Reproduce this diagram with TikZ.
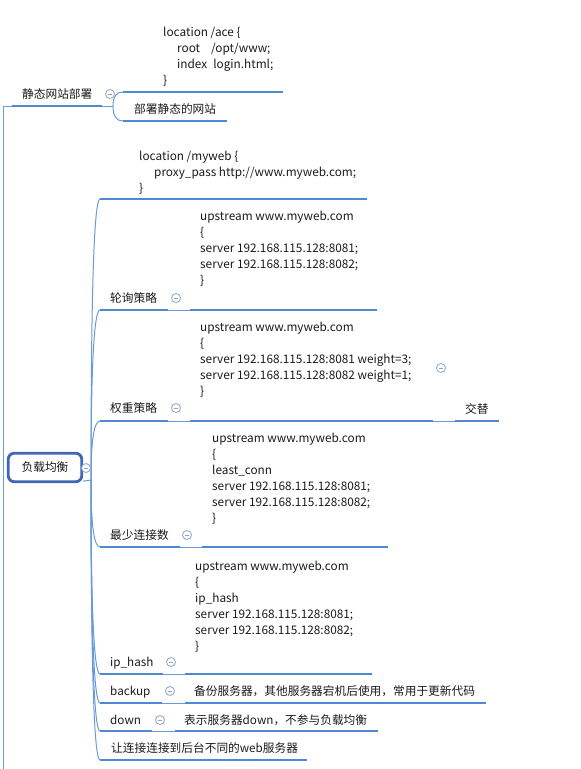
\documentclass[tikz,border=0pt]{standalone}
\usepackage{fontspec}
\setmainfont{Noto Sans CJK SC}
\usepackage{tikz}
\usetikzlibrary{calc}
\definecolor{linkblue}{HTML}{5088D2}
\definecolor{rootblue}{HTML}{3E68B6}
\definecolor{foldgray}{HTML}{8DA4C8}
\definecolor{inkblack}{HTML}{1A1A1A}

\begin{document}
\begin{tikzpicture}[x=1pt,y=-1pt,
    every node/.style={font=\fontsize{11.7}{16}\selectfont,text=inkblack,inner sep=0pt},
    topic/.style={anchor=base west},
    codebox/.style={anchor=base west,align=left,font=\fontsize{11.8}{16}\selectfont},
    uline/.style={draw=linkblue,line width=2.4pt},
    link/.style={draw=linkblue!85,line width=1pt},
    fold/.style={circle,draw=foldgray,line width=0.8pt,fill=white,minimum size=9pt,
      path picture={\draw[foldgray,line width=0.8pt]
        ([xshift=-2.4pt]path picture bounding box.center) -- ([xshift=2.4pt]path picture bounding box.center);}}]
  \useasboundingbox (0,0) rectangle (581,769);

  % static site branch
  \coordinate (s0) at (113,106);
  \coordinate (s1) at (123,92);
  \coordinate (s2) at (123,121);
  \draw[link] (3,769) -- (3,106) -- (12,106);
  \draw[link] (102,106) -- (s0);
  \draw[link] (s0) .. controls ($(s0)!.667!(s0 |- s1)$) and ($(s1)+(-6.7,0)$) .. (s1);
  \draw[link] (s0) .. controls ($(s0)!.667!(s0 |- s2)$) and ($(s2)+(-6.7,0)$) .. (s2);
  \draw[uline] (12,106) -- (102,106);
  \draw[uline] (s1) -- (283,92);
  \draw[uline] (s2) -- (227,121);
  % base of a multi-line box = last line
  \node[codebox] (ace) at (163,84.5) {location /ace \{\\\hspace*{14pt}root\hspace{11pt}/opt/www;\\\hspace*{14pt}index\hspace{6pt}login.html;\\\}};
  \node[topic] (static) at (22,98.5) {静态网站部署};
  \node[topic] (deploy) at (134,113) {部署静态的网站};
  \node[fold] (fstatic) at (110,94) {};

  % load balancing branch
  \coordinate (r) at (91,480);
  \coordinate (c1) at (100,199);
  \coordinate (c2) at (100,310);
  \coordinate (c3) at (100,421);
  \coordinate (c4) at (100,547);
  \coordinate (c5) at (100,674);
  \coordinate (c6) at (100,703);
  \coordinate (c7) at (100,731);
  \coordinate (c8) at (100,760);
  \draw[link] (r) .. controls ($(r)!.667!(r |- c1)$) and ($(c1)+(-6,0)$) .. (c1);
  \draw[link] (r) .. controls ($(r)!.667!(r |- c2)$) and ($(c2)+(-6,0)$) .. (c2);
  \draw[link] (r) .. controls ($(r)!.667!(r |- c3)$) and ($(c3)+(-6,0)$) .. (c3);
  \draw[link] (r) .. controls ($(r)!.667!(r |- c4)$) and ($(c4)+(-6,0)$) .. (c4);
  \draw[link] (r) .. controls ($(r)!.667!(r |- c5)$) and ($(c5)+(-6,0)$) .. (c5);
  \draw[link] (r) .. controls ($(r)!.667!(r |- c6)$) and ($(c6)+(-6,0)$) .. (c6);
  \draw[link] (r) .. controls ($(r)!.667!(r |- c7)$) and ($(c7)+(-6,0)$) .. (c7);
  \draw[link] (r) .. controls ($(r)!.667!(r |- c8)$) and ($(c8)+(-6,0)$) .. (c8);
  \node[draw=rootblue,line width=2.8pt,rounded corners=6pt,fill=white,
    minimum width=73.5pt,minimum height=28.5pt] (lb) at (45,467.5) {负载均衡};
  \draw[link] ([yshift=2pt]lb.south east) -- (r);
  \node[fold] (flb) at (86,468) {};

  % proxy
  \draw[uline] (c1) -- (367,199);
  \node[codebox] (myweb) at (139,192) {location /myweb \{\\\hspace*{15pt}proxy\_pass http://www.myweb.com;\\\}};

  % round robin
  \coordinate (rr1) at (168,310);
  \coordinate (rr2) at (190,310);
  \draw[uline] (c2) -- (rr1);
  \draw[link] (rr1) -- (rr2);
  \draw[uline] (rr2) -- (377,310);
  \node[topic] (rr) at (110,302) {轮询策略};
  \node[fold] (frr) at (176,298) {};
  \node[codebox] (rrcode) at (200,284.5) {upstream www.myweb.com\\\{\\server 192.168.115.128:8081;\\server 192.168.115.128:8082;\\\}};

  % weight
  \coordinate (wt1) at (168,421);
  \coordinate (wt2) at (190,421);
  \coordinate (wt3) at (433,421);
  \coordinate (wt4) at (455,421);
  \draw[uline] (c3) -- (wt1);
  \draw[link] (wt1) -- (wt2);
  \draw[uline] (wt2) -- (wt3);
  \draw[link] (wt3) -- (wt4);
  \draw[uline] (wt4) -- (499,421);
  \node[topic] (wt) at (110,412) {权重策略};
  \node[fold] (fwt) at (176,408) {};
  \node[codebox] (wtcode) at (200,395.5) {upstream www.myweb.com\\\{\\server 192.168.115.128:8081 weight=3;\\server 192.168.115.128:8082 weight=1;\\\}};
  \node[fold] (fwtcode) at (441,368) {};
  \node[topic] (alt) at (465,413) {交替};

  % least connections
  \coordinate (lc1) at (180,547);
  \coordinate (lc2) at (202,547);
  \draw[uline] (c4) -- (lc1);
  \draw[link] (lc1) -- (lc2);
  \draw[uline] (lc2) -- (388,547);
  \node[topic] (lc) at (110,539) {最少连接数};
  \node[fold] (flc) at (187,535) {};
  \node[codebox] (lccode) at (212,522.5) {upstream www.myweb.com\\\{\\least\_conn\\server 192.168.115.128:8081;\\server 192.168.115.128:8082;\\\}};

  % ip hash
  \coordinate (ih1) at (163,674);
  \coordinate (ih2) at (185,674);
  \draw[uline] (c5) -- (ih1);
  \draw[link] (ih1) -- (ih2);
  \draw[uline] (ih2) -- (372,674);
  \node[topic] (ih) at (110,666) {ip\_hash};
  \node[fold] (fih) at (171,662) {};
  \node[codebox] (ihcode) at (195,650) {upstream www.myweb.com\\\{\\ip\_hash\\server 192.168.115.128:8081;\\server 192.168.115.128:8082;\\\}};

  % backup
  \coordinate (bk1) at (162,703);
  \coordinate (bk2) at (185,703);
  \draw[uline] (c6) -- (bk1);
  \draw[link] (bk1) -- (bk2);
  \draw[uline] (bk2) -- (486,703);
  \node[topic] (bk) at (110,695) {backup};
  \node[fold] (fbk) at (170,691) {};
  \node[topic] (bktext) at (194,695) {备份服务器，其他服务器宕机后使用，常用于更新代码};

  % down
  \coordinate (dn1) at (152,731);
  \coordinate (dn2) at (175,731);
  \draw[uline] (c7) -- (dn1);
  \draw[link] (dn1) -- (dn2);
  \draw[uline] (dn2) -- (378,731);
  \node[topic] (dn) at (110,724) {down};
  \node[fold] (fdn) at (160,720) {};
  \node[topic] (dntext) at (184,724) {表示服务器down，不参与负载均衡};

  % purpose
  \draw[uline] (c8) -- (307,760);
  \node[topic] (purpose) at (111,752) {让连接连接到后台不同的web服务器};
\end{tikzpicture}
\end{document}
